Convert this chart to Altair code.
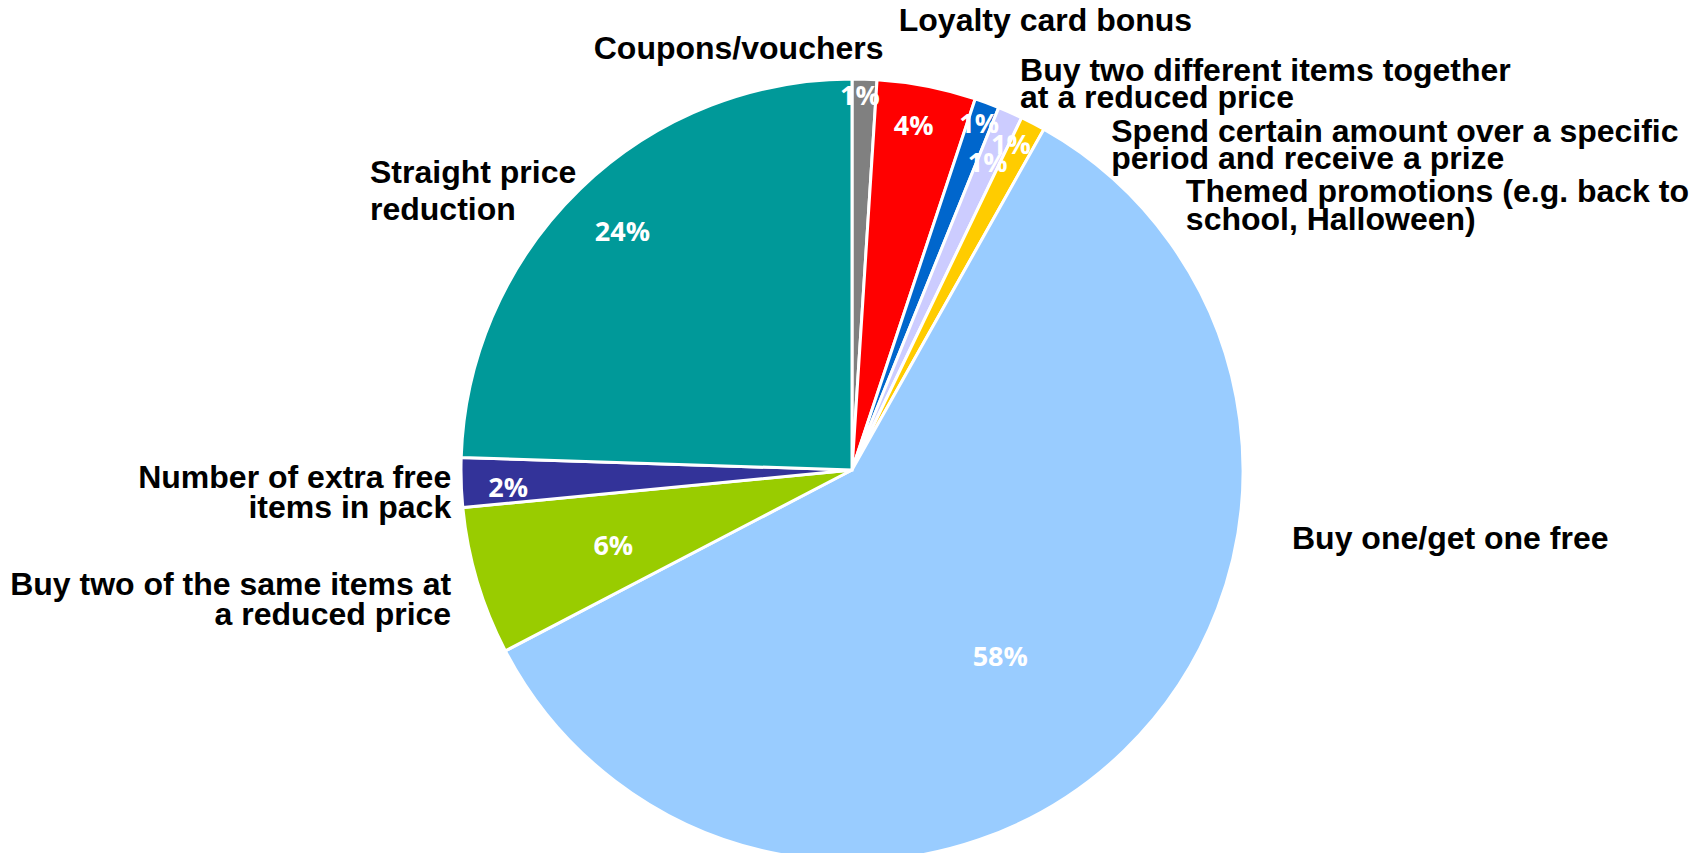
import altair as alt
import pandas as pd

# ---- data ----
categories = [
    "Coupons/vouchers",
    "Loyalty card bonus",
    "Buy two different items together",
    "Spend certain amount over a specific period",
    "Themed promotions",
    "Buy one/get one free",
    "Buy two of the same items",
    "Number of extra free items in pack",
    "Straight price reduction",
]
values = [1, 4, 1, 1, 1, 58, 6, 2, 24]
pct_labels = ["1%", "4%", "1%", "1%", "1%", "58%", "6%", "2%", "24%"]
cat_labels = [
    "Coupons/vouchers",
    "Loyalty card bonus",
    "Buy two different items together|at a reduced price",
    "Spend certain amount over a specific|period and receive a prize",
    "Themed promotions (e.g. back to|school, Halloween)",
    "Buy one/get one free",
    "Buy two of the same items at|a reduced price",
    "Number of extra free|items in pack",
    "Straight price|reduction",
]
colors = ["#808080", "#FF0000", "#0066CC", "#CCCCFF", "#FFCC00",
          "#99CCFF", "#99CC00", "#333399", "#009999"]

# ---- layout ----
CX, CY, R = 844, 462, 391
# (radius, dx, dy) of each percentage label
pct_layout = [
    (373, -4, 0),
    (349, -5, 0),
    (368, 0, 0),
    (335, 0, 0),
    (361, -8, -4),
    (239, -18, 16),
    (249, 0, 6),
    (344, 0, 8),
    (330, 0, 0),
]
# (align, dx, dy, lineHeight) of each category label relative to its slice's outer edge
cat_layout = [
    ("right", 19, -30, 28),
    ("left", -28, -65, 28),
    ("left", 33, -32, 27),
    ("left", 101, 20, 27),
    ("left", 153, 69, 28),
    ("left", 168, -212, 28),
    ("right", -26, 4, 30),
    ("right", -10, -5, 30),
    ("left", -210, -16, 37),
]
LABEL_FONT = "Liberation Sans, Arial, sans-serif"
PCT_FONT = "Open Sans, DejaVu Sans, sans-serif"

df = pd.DataFrame({
    "category": categories,
    "value": values,
    "idx": list(range(len(values))),
    "pct": pct_labels,
    "label": cat_labels,
})

base = alt.Chart(df).encode(
    theta=alt.Theta("value:Q", stack=True),
    order=alt.Order("idx:Q"),
    x=alt.value(CX),
    y=alt.value(CY),
)

pie = base.mark_arc(radius=R, stroke="white", strokeWidth=3).encode(
    color=alt.Color("category:N", scale=alt.Scale(domain=categories, range=colors), legend=None)
)

layers = [pie]
for i, (rad, dx, dy) in enumerate(pct_layout):
    layers.append(
        base.transform_calculate(
            t=f"datum.idx == {i} ? datum.pct : ''"
        ).mark_text(
            font=PCT_FONT, fontSize=27, fontWeight="bold", color="white",
            align="center", baseline="middle", dx=dx, dy=dy
        ).encode(
            radius=alt.value(rad),
            text=alt.Text("t:N"),
        )
    )

for i, (align, dx, dy, lh) in enumerate(cat_layout):
    layers.append(
        base.transform_calculate(
            t=f"datum.idx == {i} ? split(datum.label, '|') : ''"
        ).mark_text(
            font=LABEL_FONT, fontSize=32, fontWeight="bold", color="black",
            align=align, baseline="middle", dx=dx, dy=dy, lineHeight=lh
        ).encode(
            radius=alt.value(R),
            text=alt.Text("t:N"),
        )
    )

chart = alt.layer(*layers).properties(
    width=1689, height=845,
    autosize=alt.AutoSizeParams(type="none"),
    padding=0,
).configure_view(stroke=None)

chart.save("out.html", embed_options={"renderer": "svg", "actions": False})
